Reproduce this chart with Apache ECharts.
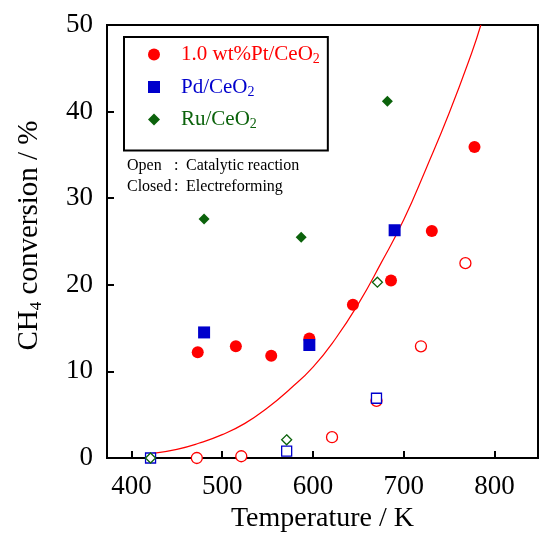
<!DOCTYPE html>
<html>
<head>
<meta charset="utf-8">
<script src="https://cdn.jsdelivr.net/npm/echarts@6/dist/echarts.min.js"></script>
<style>
html,body{margin:0;padding:0;background:#fff;}
#chart{width:540px;height:533px;}
</style>
</head>
<body>
<div id="chart"></div>
<script>
// ---- data ----
var xTicks = [400, 500, 600, 700, 800];
var ptClosedX = [473, 515, 554, 596, 644, 686, 731, 778];
var ptClosedY = [12.2, 12.9, 11.8, 13.8, 17.7, 20.5, 26.2, 35.9];
var ptOpenX = [472, 521, 621, 670, 719, 768];
var ptOpenY = [0.0, 0.2, 2.4, 6.6, 12.9, 22.5];
var pdClosedX = [480, 596, 690];
var pdClosedY = [14.5, 13.05, 26.3];
var pdOpenX = [421, 571, 670];
var pdOpenY = [0.0, 0.8, 6.9];
var ruClosedX = [480, 587, 682];
var ruClosedY = [27.6, 25.5, 41.2];
var ruOpenX = [421, 571, 671];
var ruOpenY = [0.0, 2.1, 20.3];
var fitX = [422, 450, 474, 500, 525, 550, 575, 600, 625, 650, 675, 700, 725, 750, 775, 785];
var fitY = [0.5, 1.0, 1.7, 2.7, 4.0, 5.8, 8.0, 10.5, 13.8, 17.8, 22.5, 27.5, 33.5, 39.8, 46.8, 50];

function pairs(xs, ys) { return xs.map(function (x, i) { return [x, ys[i]]; }); }

var RED = '#ff0000', BLUE = '#0000cc', GREEN = '#0b620b';
var FONT = '"Liberation Serif", "DejaVu Serif", serif';

var chart = echarts.init(document.getElementById('chart'));

chart.setOption({
  animation: false,
  backgroundColor: '#fff',
  grid: { left: 107, right: 2, top: 25, bottom: 75, outerBoundsMode: 'none', containLabel: false,
    show: true, borderColor: '#000', borderWidth: 2, backgroundColor: 'transparent' },
  xAxis: {
    type: 'value', min: 373, max: 848,
    axisLine: { lineStyle: { color: '#000', width: 2 } },
    axisTick: { inside: true, length: 7, lineStyle: { color: '#000', width: 2 }, customValues: xTicks },
    axisLabel: { customValues: xTicks, color: '#000', fontSize: 27, fontFamily: FONT, margin: 15 },
    splitLine: { show: false },
    name: 'Temperature / K', nameLocation: 'middle', nameGap: 47,
    nameTextStyle: { color: '#000', fontSize: 28, fontFamily: FONT }
  },
  yAxis: {
    type: 'value', min: 0, max: 50, interval: 10,
    axisLine: { lineStyle: { color: '#000', width: 2 } },
    axisTick: { inside: true, length: 7, lineStyle: { color: '#000', width: 2 } },
    axisLabel: { color: '#000', fontSize: 27, fontFamily: FONT, margin: 14 },
    splitLine: { show: false },
    name: '{m0|CH}{sub|4}{m| conversion / %}', nameLocation: 'middle', nameGap: 62, nameRotate: 90,
    nameTextStyle: { color: '#000', fontSize: 29, fontFamily: FONT,
      rich: {
        m0: { fontSize: 29, fontFamily: FONT, color: '#000', padding: [0, 0, 0, 12] },
        m: { fontSize: 29, fontFamily: FONT, color: '#000' },
        sub: { fontSize: 17, fontFamily: FONT, color: '#000', verticalAlign: 'bottom', padding: [14, 0, 0, 0] } } }
  },
  legend: {
    orient: 'vertical', left: 124, top: 37, padding: [7, 8, 19, 24],
    borderColor: '#000', borderWidth: 2, itemWidth: 12, itemHeight: 12, itemGap: 10,
    data: [
      { name: 'Pt', textStyle: { color: RED } },
      { name: 'Pd', textStyle: { color: BLUE } },
      { name: 'Ru', textStyle: { color: GREEN } }
    ],
    formatter: function (n) {
      if (n === 'Pt') return '{m|1.0 wt%Pt/CeO}{s|2}';
      if (n === 'Pd') return '{m|Pd/CeO}{s|2}';
      return '{m|Ru/CeO}{s|2}';
    },
    textStyle: { fontFamily: FONT, fontSize: 21,
      rich: { m: { fontSize: 21, fontFamily: FONT, padding: [0, 0, 0, 16] }, s: { fontSize: 14, fontFamily: FONT, verticalAlign: 'bottom', padding: [10, 0, 0, 0] } } }
  },
  graphic: [
    { type: 'text', left: 127, top: 158, style: { text: 'Open', font: '16px ' + FONT, fill: '#000' } },
    { type: 'text', left: 174, top: 158, style: { text: ':', font: '16px ' + FONT, fill: '#000' } },
    { type: 'text', left: 186, top: 158, style: { text: 'Catalytic reaction', font: '16px ' + FONT, fill: '#000' } },
    { type: 'text', left: 127, top: 179, style: { text: 'Closed', font: '16px ' + FONT, fill: '#000' } },
    { type: 'text', left: 174, top: 179, style: { text: ':', font: '16px ' + FONT, fill: '#000' } },
    { type: 'text', left: 186, top: 179, style: { text: 'Electreforming', font: '16px ' + FONT, fill: '#000' } }
  ],
  series: [
    { type: 'line', name: 'fit', data: pairs(fitX, fitY), smooth: true, symbol: 'none', silent: true,
      lineStyle: { color: RED, width: 1.2 }, z: 1 },
    { type: 'scatter', name: 'Pt', data: pairs(ptClosedX, ptClosedY), symbol: 'circle', symbolSize: 12,
      itemStyle: { color: RED, opacity: 1 }, z: 2 },
    { type: 'scatter', name: 'PtOpen', data: pairs(ptOpenX, ptOpenY), symbol: 'circle', symbolSize: 11,
      itemStyle: { color: '#fff', borderColor: RED, borderWidth: 1.3, opacity: 1 }, z: 2 },
    { type: 'scatter', name: 'Pd', data: pairs(pdClosedX, pdClosedY), symbol: 'rect', symbolSize: 12,
      itemStyle: { color: BLUE, opacity: 1 }, z: 3 },
    { type: 'scatter', name: 'PdOpen', data: pairs(pdOpenX, pdOpenY), symbol: 'rect', symbolSize: 10,
      itemStyle: { color: '#fff', borderColor: BLUE, borderWidth: 1.3, opacity: 1 }, z: 3 },
    { type: 'scatter', name: 'Ru', data: pairs(ruClosedX, ruClosedY), symbol: 'diamond', symbolSize: 11,
      itemStyle: { color: GREEN, opacity: 1 }, z: 4 },
    { type: 'scatter', name: 'RuOpen', data: pairs(ruOpenX, ruOpenY), symbol: 'diamond', symbolSize: 10,
      itemStyle: { color: '#fff', borderColor: GREEN, borderWidth: 1.3, opacity: 1 }, z: 4 }
  ]
});
</script>
</body>
</html>
